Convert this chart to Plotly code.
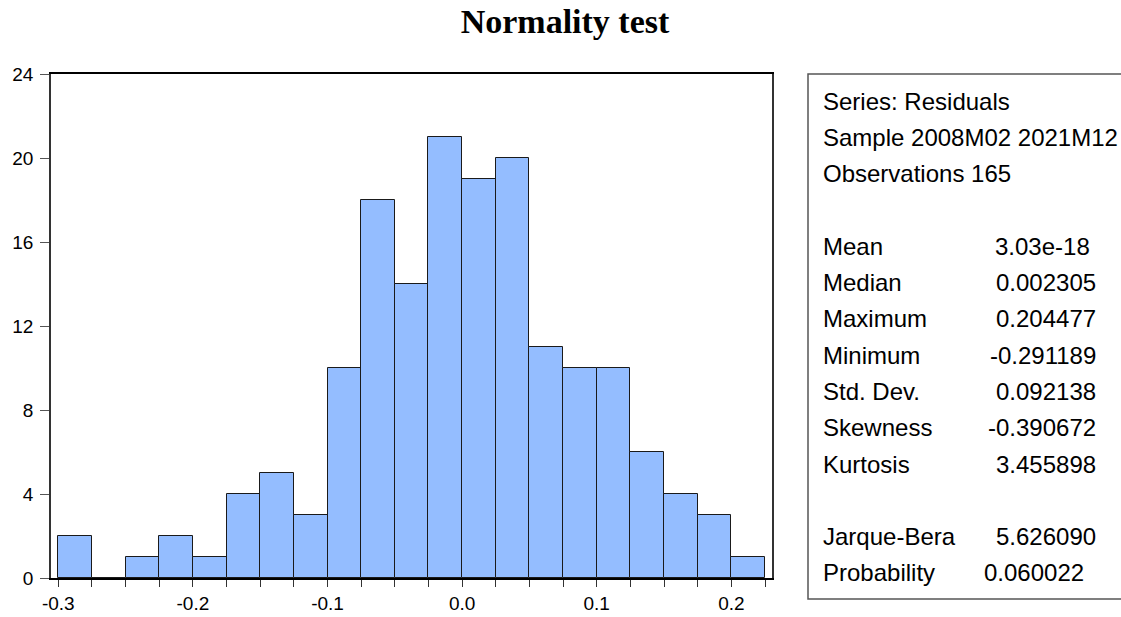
import plotly.graph_objects as go

# ---- data ----
bin_left_edges = [-0.300, -0.275, -0.250, -0.225, -0.200, -0.175, -0.150, -0.125,
                  -0.100, -0.075, -0.050, -0.025, 0.000, 0.025, 0.050, 0.075,
                  0.100, 0.125, 0.150, 0.175, 0.200]
counts = [2, 0, 1, 2, 1, 4, 5, 3, 10, 18, 14, 21, 19, 20, 11, 10, 10, 6, 4, 3, 1]
bin_width = 0.025

stat_header = ["Series: Residuals", "Sample 2008M02 2021M12", "Observations 165"]
stat_names = ["Mean", "Median", "Maximum", "Minimum", "Std. Dev.", "Skewness", "Kurtosis"]
stat_values = ["3.03e-18", "0.002305", "0.204477", "-0.291189", "0.092138", "-0.390672", "3.455898"]
test_names = ["Jarque-Bera", "Probability"]
test_values = ["5.626090", "0.060022"]

x_tick_vals = [round(-0.300 + 0.025 * i, 3) for i in range(22)]
x_tick_text = ["-0.3", "", "", "", "-0.2", "", "", "", "-0.1", "", "", "", "0.0", "", "", "",
               "0.1", "", "", "", "0.2", ""]
y_tick_vals = [0, 4, 8, 12, 16, 20, 24]

# ---- layout geometry (pixels) ----
W, H = 1121, 617
L, R, T, B = 51, 772, 74, 578

def px(xp):
    return (xp - L) / (R - L)

def py(yp):
    return (B - yp) / (B - T)

centers = [e + bin_width / 2 for e in bin_left_edges]

fig = go.Figure()
fig.add_trace(go.Bar(
    x=centers, y=counts, width=[bin_width] * len(counts),
    marker=dict(color="#94BDFF", line=dict(color="#1a1a1a", width=1)),
    hoverinfo="x+y",
))

fig.update_layout(
    width=W, height=H,
    margin=dict(l=L, r=W - R, t=T, b=H - B, pad=0, autoexpand=False),
    paper_bgcolor="white", plot_bgcolor="white",
    showlegend=False, bargap=0,
    title=dict(text="<b>Normality test</b>", x=565 / W, xanchor="center",
               y=1 - 21 / H, yanchor="middle",
               font=dict(family="Liberation Serif, Times New Roman, serif", size=34, color="black")),
    font=dict(family="Liberation Sans, Arial, sans-serif", color="black"),
)
fig.update_xaxes(
    range=[-0.3054, 0.2302], tickmode="array", tickvals=x_tick_vals, ticktext=x_tick_text,
    ticks="outside", ticklen=7, tickcolor="#333", tickwidth=1, automargin=False,
    showline=True, linecolor="black", linewidth=1.5, mirror=True,
    showgrid=False, zeroline=False, tickfont=dict(size=19, color="black"),
)
fig.update_yaxes(
    range=[0, 24], tickmode="array", tickvals=y_tick_vals, automargin=False,
    ticks="outside", ticklen=9, tickcolor="#555", tickwidth=1, ticklabelstandoff=3,
    showline=True, linecolor="#333", linewidth=1.5, mirror=True,
    showgrid=False, zeroline=False, tickfont=dict(size=19, color="black"),
)

# stats box
fig.add_shape(type="rect", xref="paper", yref="paper",
              x0=px(808), x1=px(1130), y0=py(599), y1=py(74),
              line=dict(color="#555", width=1.5), fillcolor="rgba(0,0,0,0)")

label_x = px(821)
font_txt = dict(family="Liberation Sans, Arial, sans-serif", size=24, color="black")
line_h = 36.3
y0 = 101

def add_text(text, xp, yp, anchor):
    fig.add_annotation(text=text, xref="paper", yref="paper", x=xp, y=py(yp),
                       xanchor=anchor, yanchor="middle", showarrow=False, font=font_txt)

for i, t in enumerate(stat_header):
    add_text(t, label_x, y0 + i * line_h, "left")

val_offsets = {"Mean": 1092}
for i, (n, v) in enumerate(zip(stat_names, stat_values)):
    yy = y0 + (i + 4) * line_h
    add_text(n, label_x, yy, "left")
    add_text(v, px(val_offsets.get(n, 1098)), yy, "right")

val_offsets2 = {"Probability": 1086}
for i, (n, v) in enumerate(zip(test_names, test_values)):
    yy = y0 + (i + 12) * line_h
    add_text(n, label_x, yy, "left")
    add_text(v, px(val_offsets2.get(n, 1098)), yy, "right")

fig.write_html("out.html", config={"displayModeBar": False},
               post_script="document.body.style.margin='0';document.body.style.overflow='hidden';")
